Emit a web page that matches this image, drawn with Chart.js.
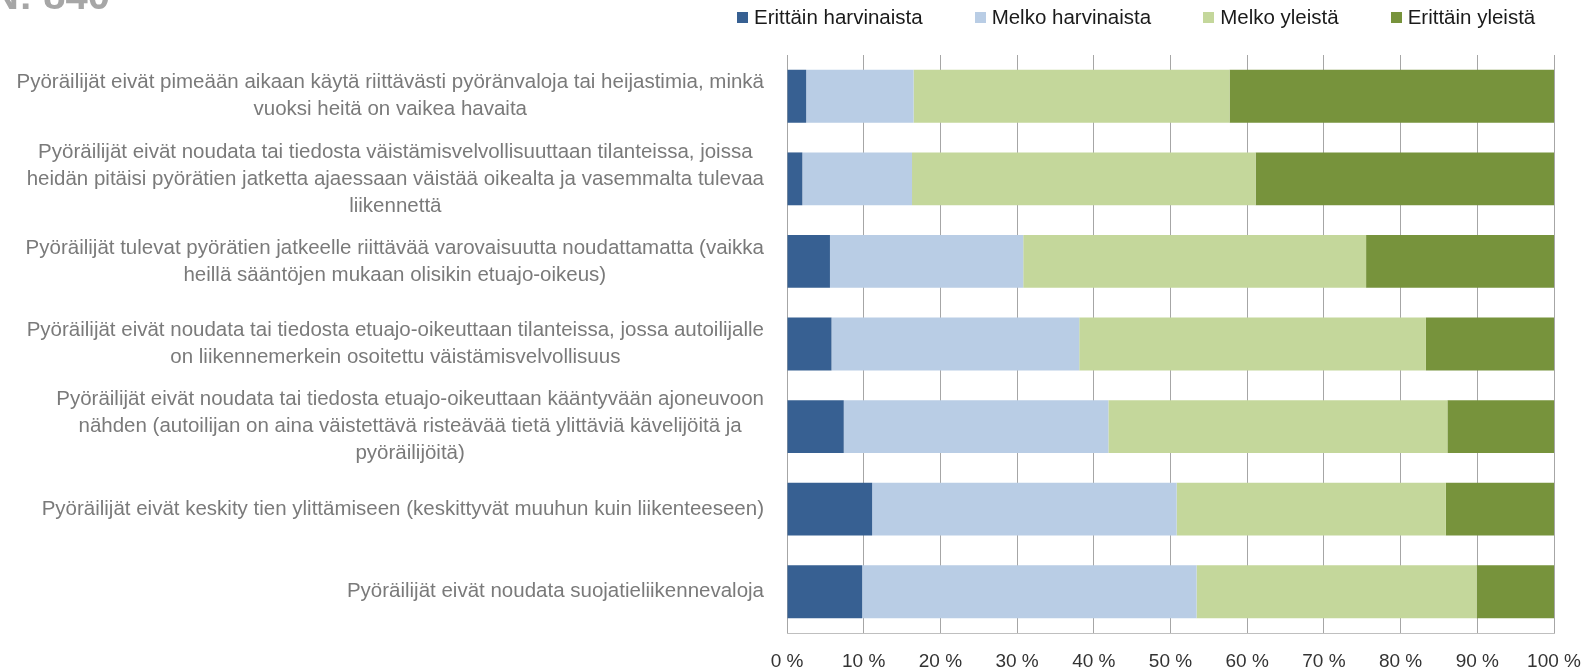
<!DOCTYPE html>
<html>
<head>
<meta charset="utf-8">
<script src="https://cdn.jsdelivr.net/npm/chart.js@4.4.0/dist/chart.umd.min.js"></script>
<style>
  html, body { margin: 0; padding: 0; background: #fff; overflow: hidden; }
  #wrap { position: relative; width: 1594px; height: 671px; }
  #chart { position: absolute; left: 0; top: 0; }
  #title { position: absolute; left: -10px; top: -25px; font: bold 40px 'Liberation Sans', Arial, sans-serif; color: #a6a6a6; line-height: 40px; white-space: nowrap; }
  #legend { position: absolute; left: 737px; top: 5px; display: flex; font: 20.5px 'Liberation Sans', Arial, sans-serif; color: #1a1a1a; white-space: nowrap; }
  .item { display: flex; align-items: center; margin-right: 52px; }
  .box { width: 11px; height: 11px; margin-right: 6px; }
</style>
</head>
<body>
<div id="wrap">
  <canvas id="chart" width="1594" height="671"></canvas>
  <div id="title">N: 840</div>
  <div id="legend"></div>
</div>
<script>
// kategoriat (rivitettynä kuten kuvassa)
const categories = [
  ['Pyöräilijät eivät pimeään aikaan käytä riittävästi pyöränvaloja tai heijastimia, minkä', 'vuoksi heitä on vaikea havaita'],
  ['Pyöräilijät eivät noudata tai tiedosta väistämisvelvollisuuttaan tilanteissa, joissa', 'heidän pitäisi pyörätien jatketta ajaessaan väistää oikealta ja vasemmalta tulevaa', 'liikennettä'],
  ['Pyöräilijät tulevat pyörätien jatkeelle riittävää varovaisuutta noudattamatta (vaikka', 'heillä sääntöjen mukaan olisikin etuajo-oikeus)'],
  ['Pyöräilijät eivät noudata tai tiedosta etuajo-oikeuttaan tilanteissa, jossa autoilijalle', 'on liikennemerkein osoitettu väistämisvelvollisuus'],
  ['Pyöräilijät eivät noudata tai tiedosta etuajo-oikeuttaan kääntyvään ajoneuvoon', 'nähden (autoilijan on aina väistettävä risteävää tietä ylittäviä kävelijöitä ja', 'pyöräilijöitä)'],
  ['Pyöräilijät eivät keskity tien ylittämiseen (keskittyvät muuhun kuin liikenteeseen)'],
  ['Pyöräilijät eivät noudata suojatieliikennevaloja']
];

const seriesNames = ['Erittäin harvinaista', 'Melko harvinaista', 'Melko yleistä', 'Erittäin yleistä'];
const seriesColors = ['#376092', '#b9cde5', '#c4d79b', '#77933c'];

// osuudet (%)
const erittainHarvinaista = [2.5, 2.0, 5.6, 5.8, 7.4, 11.1, 9.8];
const melkoHarvinaista = [14.0, 14.3, 25.2, 32.3, 34.5, 39.7, 43.6];
const melkoYleista = [41.2, 44.8, 44.7, 45.2, 44.2, 35.1, 36.5];
const erittainYleista = [42.3, 38.9, 24.5, 16.7, 13.9, 14.1, 10.1];

const tickLabels = ['0 %', '10 %', '20 %', '30 %', '40 %', '50 %', '60 %', '70 %', '80 %', '90 %', '100 %'];

const seriesValues = [erittainHarvinaista, melkoHarvinaista, melkoYleista, erittainYleista];

// legenda
const legendEl = document.getElementById('legend');
seriesNames.forEach((name, i) => {
  const item = document.createElement('div');
  item.className = 'item';
  const box = document.createElement('span');
  box.className = 'box';
  box.style.background = seriesColors[i];
  const txt = document.createElement('span');
  txt.textContent = name;
  item.appendChild(box);
  item.appendChild(txt);
  legendEl.appendChild(item);
});

// kategorioiden tekstit: rivit keskitetty, lohko oikealle tasattu
const yLabels = {
  id: 'yLabels',
  afterDraw(chart) {
    const ctx = chart.ctx;
    const y = chart.scales.y;
    const right = chart.chartArea.left - 23;
    ctx.save();
    ctx.font = '20.5px "Liberation Sans", Arial, sans-serif';
    ctx.fillStyle = '#7a7a7a';
    ctx.textAlign = 'center';
    ctx.textBaseline = 'middle';
    categories.forEach((lines, i) => {
      const w = Math.max(...lines.map(l => ctx.measureText(l).width));
      const cx = right - w / 2;
      const cy = y.getPixelForValue(i);
      lines.forEach((l, j) => {
        ctx.fillText(l, cx, cy + (j - (lines.length - 1) / 2) * 27);
      });
    });
    ctx.restore();
  }
};

new Chart(document.getElementById('chart'), {
  type: 'bar',
  data: {
    labels: categories.map(l => l.join(' ')),
    datasets: seriesNames.map((name, i) => ({
      label: name,
      data: seriesValues[i],
      backgroundColor: seriesColors[i],
      borderWidth: 0,
      barPercentage: 0.64,
      categoryPercentage: 1
    }))
  },
  options: {
    indexAxis: 'y',
    responsive: false,
    animation: false,
    layout: { padding: { top: 55, left: 0, right: 0, bottom: 0 } },
    plugins: {
      legend: { display: false },
      tooltip: { enabled: false }
    },
    scales: {
      x: {
        stacked: true,
        min: 0,
        max: 100,
        ticks: {
          stepSize: 10,
          callback: (v, i) => tickLabels[i],
          font: { family: '"Liberation Sans", Arial, sans-serif', size: 19 },
          color: '#333333',
          padding: 17,
          maxRotation: 0
        },
        grid: { color: '#a6a6a6', drawTicks: false },
        border: { color: '#bfbfbf' },
        afterFit: s => { s.paddingRight = 40; s.paddingLeft = 0; s.height = 38; }
      },
      y: {
        stacked: true,
        ticks: { display: false },
        grid: { display: false },
        border: { display: false },
        afterFit: s => { s.width = 787; }
      }
    }
  },
  plugins: [yLabels]
});
</script>
</body>
</html>
